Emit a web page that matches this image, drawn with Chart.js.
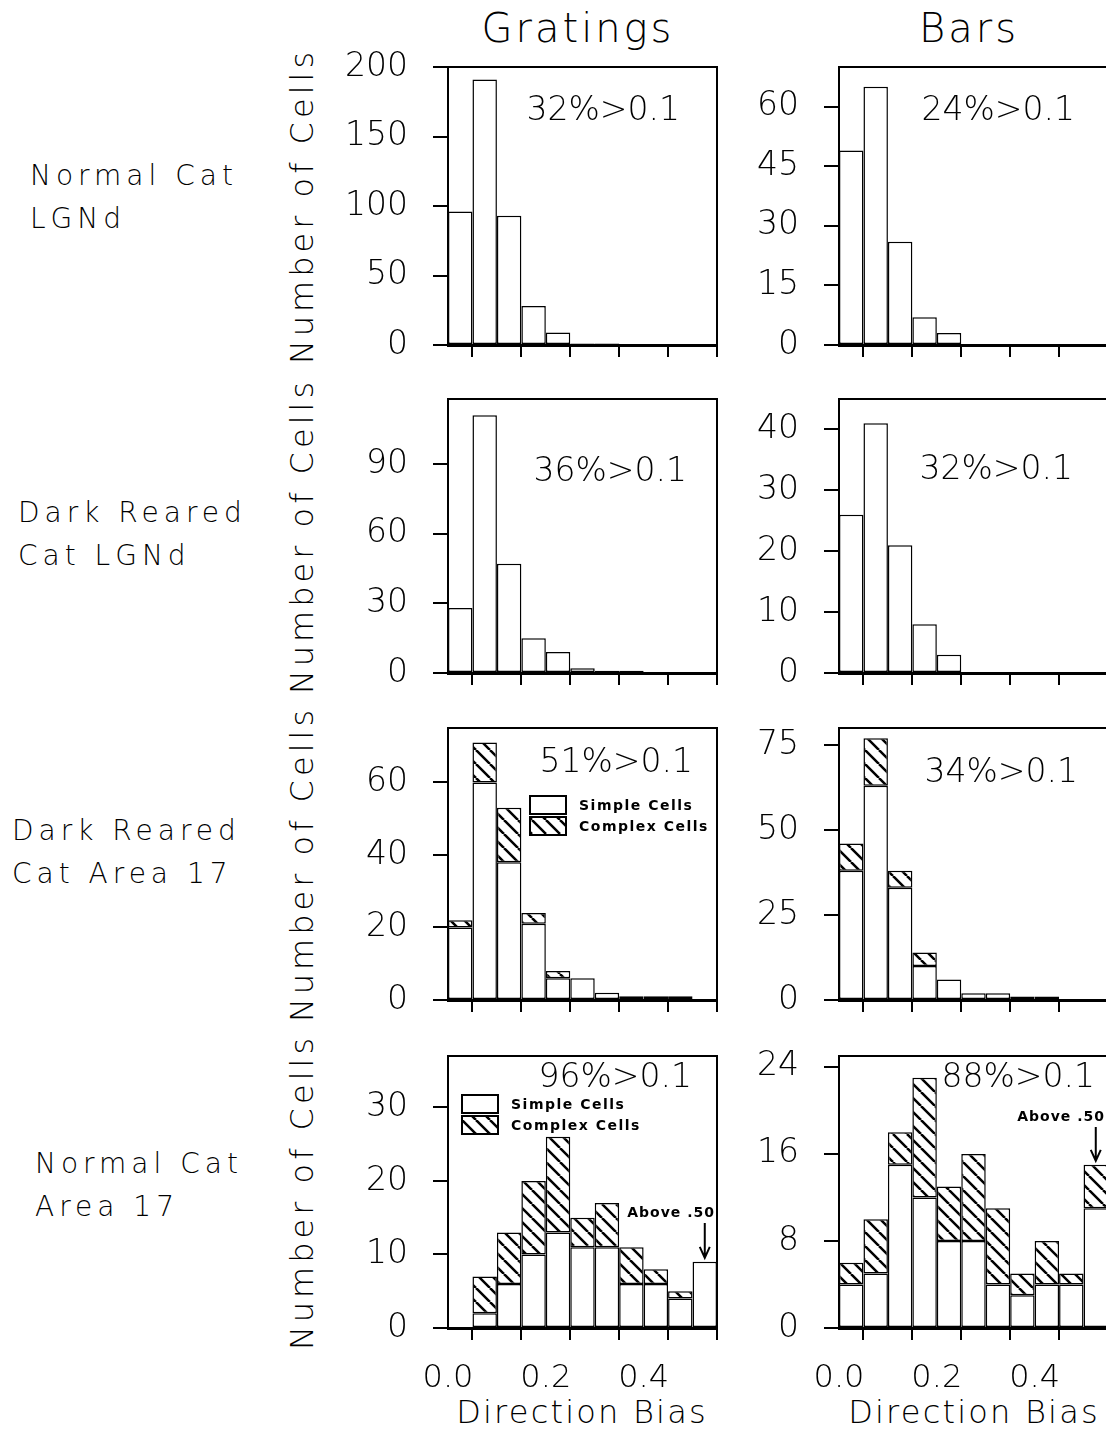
<!DOCTYPE html>
<html>
<head>
<meta charset="utf-8">
<script src="https://cdn.jsdelivr.net/npm/chart.js@4.4.0/dist/chart.umd.min.js"></script>
<style>
  html, body { margin: 0; padding: 0; background: #fff; overflow: hidden; }
  body { width: 1106px; height: 1431px; position: relative; font-family: 'DejaVu Sans', sans-serif; font-weight: 200; color: #000; }
  canvas { position: absolute; }
  .rowlbl { position: absolute; font-size: 28px; line-height: 43px; letter-spacing: 5px; white-space: nowrap; }
  .coltitle { position: absolute; width: 300px; font-size: 40px; line-height: 48px; letter-spacing: 3px; text-align: center; white-space: nowrap; }
  .ytitle { position: absolute; width: 400px; height: 40px; font-size: 32px; line-height: 40px; letter-spacing: 4px; text-align: center; white-space: nowrap; transform: rotate(-90deg); }
  .xtitle { position: absolute; width: 300px; font-size: 32px; line-height: 40px; letter-spacing: 2.2px; text-align: center; white-space: nowrap; }
</style>
</head>
<body>
<div class="coltitle" style="left:428px; top:4px;">Gratings</div>
<div class="coltitle" style="left:819px; top:4px;">Bars</div>

<div class="rowlbl" style="left:30px; top:154px;">Normal Cat<br>LGNd</div>
<div class="rowlbl" style="left:18px; top:491px;">Dark Reared<br>Cat LGNd</div>
<div class="rowlbl" style="left:12px; top:809px;">Dark Reared<br>Cat Area 17</div>
<div class="rowlbl" style="left:35px; top:1142px;">Normal Cat<br>Area 17</div>

<div class="ytitle" style="left:102px; top:186px;">Number of Cells</div>
<div class="ytitle" style="left:102px; top:516px;">Number of Cells</div>
<div class="ytitle" style="left:102px; top:844px;">Number of Cells</div>
<div class="ytitle" style="left:102px; top:1172px;">Number of Cells</div>

<div class="xtitle" style="left:432px; top:1392px;">Direction Bias</div>
<div class="xtitle" style="left:824px; top:1392px;">Direction Bias</div>

<script>
// bins of width 0.05, last bin = "above .50"
const binCenters = [0.025, 0.075, 0.125, 0.175, 0.225, 0.275, 0.325, 0.375, 0.425, 0.475, 0.525];
const xTickLabels = ['0.0', '', '0.2', '', '0.4', ''];

// LGNd, single series
const lgnNormalGratings = [96, 191, 93, 28, 9, 1, 1, 0, 0, 0, 0];
const lgnNormalBars = [49, 65, 26, 7, 3, 0, 0, 0, 0, 0, 0];
const lgnDarkGratings = [28, 111, 47, 15, 9, 2, 1, 1, 0, 0, 0];
const lgnDarkBars = [26, 41, 21, 8, 3, 0, 0, 0, 0, 0, 0];

// Area 17, simple + complex stacked
const darkA17GratingsSimple = [20, 60, 38, 21, 6, 6, 2, 1, 1, 1, 0];
const darkA17GratingsComplex = [2, 11, 15, 3, 2, 0, 0, 0, 0, 0, 0];
const darkA17BarsSimple = [38, 63, 33, 10, 6, 2, 2, 1, 1, 0, 0];
const darkA17BarsComplex = [8, 14, 5, 4, 0, 0, 0, 0, 0, 0, 0];
const normA17GratingsSimple = [0, 2, 6, 10, 13, 11, 11, 6, 6, 4, 9];
const normA17GratingsComplex = [0, 5, 7, 10, 13, 4, 6, 5, 2, 1, 0];
const normA17BarsSimple = [4, 5, 15, 12, 8, 8, 4, 3, 4, 4, 11];
const normA17BarsComplex = [2, 5, 3, 11, 5, 8, 7, 2, 4, 1, 4];

const FONT = '"DejaVu Sans", sans-serif';

function makeHatch() {
    const s = 14;
    const c = document.createElement('canvas');
    c.width = s; c.height = s;
    const g = c.getContext('2d');
    g.fillStyle = '#fff';
    g.fillRect(0, 0, s, s);
    g.strokeStyle = '#000';
    g.lineWidth = 2.5;
    g.beginPath();
    for (const k of [-1, 0, 1]) {
        g.moveTo(k * s, 0);
        g.lineTo(k * s + s, s);
    }
    g.stroke();
    return g.createPattern(c, 'repeat');
}
const hatch = makeHatch();

const rows = [
    { top: 67, bottom: 345 },
    { top: 399, bottom: 673 },
    { top: 728, bottom: 1000 },
    { top: 1056, bottom: 1328 }
];
const cols = [
    { x: 280, left: 448, w: 445 },
    { x: 725, left: 839, w: 391 }
];

const panels = [
    { col: 0, row: 0, simple: lgnNormalGratings, yMax: 200, yStep: 50, pct: '32%>0.1', pctAt: [232, 44] },
    { col: 1, row: 0, simple: lgnNormalBars, yMax: 70, yStep: 15, pct: '24%>0.1', pctAt: [236, 44] },
    { col: 0, row: 1, simple: lgnDarkGratings, yMax: 118, yStep: 30, pct: '36%>0.1', pctAt: [239, 73] },
    { col: 1, row: 1, simple: lgnDarkBars, yMax: 45, yStep: 10, pct: '32%>0.1', pctAt: [234, 71] },
    { col: 0, row: 2, simple: darkA17GratingsSimple, complex: darkA17GratingsComplex, yMax: 75, yStep: 20,
      pct: '51%>0.1', pctAt: [245, 35], legendAt: [82, 68] },
    { col: 1, row: 2, simple: darkA17BarsSimple, complex: darkA17BarsComplex, yMax: 80, yStep: 25,
      pct: '34%>0.1', pctAt: [239, 45] },
    { col: 0, row: 3, simple: normA17GratingsSimple, complex: normA17GratingsComplex, yMax: 37, yStep: 10,
      pct: '96%>0.1', pctAt: [244, 22], legendAt: [14, 39], aboveAt: [267, 157] },
    { col: 1, row: 3, simple: normA17BarsSimple, complex: normA17BarsComplex, yMax: 25, yStep: 8,
      pct: '88%>0.1', pctAt: [256, 22], aboveAt: [266, 61] }
];

// frame, percentage note, inline legend and "Above .50" arrow
const notesPlugin = {
    id: 'notes',
    afterDraw(chart, args, opts) {
        const { ctx, chartArea: a, scales } = chart;
        ctx.save();
        ctx.strokeStyle = '#000';
        ctx.lineWidth = 2;
        ctx.beginPath();
        ctx.moveTo(a.left, a.top);
        ctx.lineTo(a.right, a.top);
        ctx.lineTo(a.right, a.bottom);
        ctx.stroke();

        ctx.fillStyle = '#000';
        ctx.font = '200 33px ' + FONT;
        ctx.textAlign = 'right';
        ctx.textBaseline = 'middle';
        ctx.fillText(opts.pct, a.left + opts.pctAt[0], a.top + opts.pctAt[1]);

        if (opts.legendAt) {
            const bx = a.left + opts.legendAt[0], by = a.top + opts.legendAt[1];
            const items = [['Simple Cells', '#fff'], ['Complex Cells', hatch]];
            ctx.font = 'bold 14px ' + FONT;
            ctx.letterSpacing = '1.5px';
            ctx.textAlign = 'left';
            items.forEach((it, i) => {
                const y = by + i * 21;
                ctx.fillStyle = it[1];
                ctx.fillRect(bx, y, 36, 18);
                ctx.strokeRect(bx, y, 36, 18);
                ctx.fillStyle = '#000';
                ctx.fillText(it[0], bx + 49, y + 10);
            });
            ctx.letterSpacing = '0px';
        }

        if (opts.aboveAt) {
            const tx = a.left + opts.aboveAt[0], ty = a.top + opts.aboveAt[1];
            ctx.font = 'bold 14px ' + FONT;
            ctx.letterSpacing = '1px';
            ctx.textAlign = 'right';
            ctx.fillText('Above .50', tx, ty);
            ctx.letterSpacing = '0px';
            const last = binCenters.length - 1;
            let total = 0;
            chart.data.datasets.forEach(d => { total += d.data[last].y; });
            const ax = scales.x.getPixelForValue(binCenters[last]);
            const tip = scales.y.getPixelForValue(total) - 4;
            ctx.lineWidth = 2;
            ctx.beginPath();
            ctx.moveTo(ax, ty + 10);
            ctx.lineTo(ax, tip);
            ctx.moveTo(ax - 5, tip - 11);
            ctx.lineTo(ax, tip);
            ctx.lineTo(ax + 5, tip - 11);
            ctx.stroke();
        }
        ctx.restore();
    }
};

function toPoints(values) {
    return binCenters.map((x, i) => ({ x: x, y: values[i] }));
}

panels.forEach(p => {
    const r = rows[p.row], c = cols[p.col];
    const bottomRow = p.row === rows.length - 1;
    const padTop = 20;
    const xh = bottomRow ? 1431 - r.bottom : 20;
    const yw = c.left - c.x;

    const canvas = document.createElement('canvas');
    canvas.width = c.w;
    canvas.height = padTop + (r.bottom - r.top) + xh;
    canvas.style.left = c.x + 'px';
    canvas.style.top = (r.top - padTop) + 'px';
    document.body.appendChild(canvas);

    const barStyle = { borderColor: '#000', borderWidth: 1.5, borderSkipped: false, inflateAmount: 0,
                       barPercentage: 1, categoryPercentage: 1 };
    const datasets = [Object.assign({ label: 'Simple Cells', data: toPoints(p.simple), backgroundColor: '#fff' }, barStyle)];
    if (p.complex) {
        datasets.push(Object.assign({ label: 'Complex Cells', data: toPoints(p.complex), backgroundColor: hatch }, barStyle));
    }

    new Chart(canvas, {
        type: 'bar',
        data: { datasets: datasets },
        options: {
            responsive: false,
            animation: false,
            devicePixelRatio: 1,
            layout: { padding: { top: padTop, right: c.w - yw - 269, left: 0, bottom: 0 } },
            plugins: {
                legend: { display: false },
                tooltip: { enabled: false },
                notes: { pct: p.pct, pctAt: p.pctAt, legendAt: p.legendAt, aboveAt: p.aboveAt }
            },
            scales: {
                x: {
                    type: 'linear',
                    min: 0,
                    max: 0.55,
                    offset: false,
                    stacked: true,
                    grid: { drawOnChartArea: false, drawTicks: true, tickLength: 12, color: '#000', lineWidth: 2 },
                    border: { color: '#000', width: 3 },
                    ticks: {
                        display: bottomRow,
                        stepSize: 0.1,
                        includeBounds: false,
                        autoSkip: false,
                        maxRotation: 0,
                        color: '#000',
                        padding: 19,
                        font: { family: FONT, size: 32, weight: '200' },
                        callback: (v, i) => xTickLabels[i]
                    },
                    afterFit: s => { s.height = xh; s.paddingLeft = 0; s.paddingRight = 0; }
                },
                y: {
                    min: 0,
                    max: p.yMax,
                    stacked: true,
                    grid: { drawOnChartArea: false, drawTicks: true, tickLength: 15, color: '#000', lineWidth: 2 },
                    border: { color: '#000', width: 2 },
                    ticks: {
                        stepSize: p.yStep,
                        includeBounds: false,
                        color: '#000',
                        padding: 25,
                        font: { family: FONT, size: 33, weight: '200' }
                    },
                    afterFit: s => { s.width = yw; s.paddingTop = 0; s.paddingBottom = 0; }
                }
            }
        },
        plugins: [notesPlugin]
    });
});
</script>
</body>
</html>
